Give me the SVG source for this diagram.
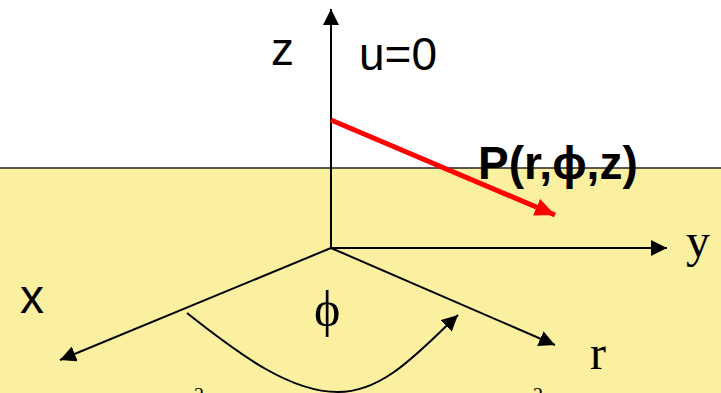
<svg xmlns="http://www.w3.org/2000/svg" width="721" height="393" viewBox="0 0 721 393">
<style>
.ax{stroke:#000;stroke-width:2;fill:none}
.sans{font-family:"Liberation Sans",Arial,sans-serif;fill:#000}
.serif{font-family:"Liberation Serif","Times New Roman",serif;fill:#000}
</style>
<defs>
<marker id="ah" markerUnits="userSpaceOnUse" markerWidth="18" markerHeight="16" refX="16" refY="8" orient="auto">
<path d="M0,0 L16,8 L0,16 Z" fill="#000"/>
</marker>
<marker id="ahr" markerUnits="userSpaceOnUse" markerWidth="22" markerHeight="18" refX="20" refY="9" orient="auto">
<path d="M0,0 L20,9 L0,18 Z" fill="#f00"/>
</marker>
</defs>
<rect x="0" y="0" width="721" height="393" fill="#fff"/>
<rect id="ground" x="0" y="168" width="721" height="225" fill="#FAF0A0"/>
<line id="surface" x1="0" y1="168" x2="721" y2="168" stroke="#222" stroke-width="1.5"/>
<g id="connectors">
<line class="ax" x1="331" y1="249" x2="331" y2="9" marker-end="url(#ah)"/>
<line class="ax" x1="331" y1="248" x2="667" y2="248" marker-end="url(#ah)"/>
<line class="ax" x1="331" y1="248" x2="60" y2="360" marker-end="url(#ah)"/>
<line class="ax" x1="331" y1="248" x2="555" y2="345" marker-end="url(#ah)"/>
<path class="ax" d="M187,313 C240,355 290,392 338,392 C385,392 420,350 458,315" marker-end="url(#ah)"/>
<line x1="331" y1="120" x2="555" y2="215" stroke="#f00" stroke-width="5" marker-end="url(#ahr)"/>
</g>
<g id="labels">
<text class="sans" x="271" y="65" font-size="46">z</text>
<text class="sans" x="359" y="70" font-size="46">u=0</text>
<text class="sans" x="478" y="179" font-size="46" font-weight="bold">P(r,ϕ,z)</text>
<text class="sans" x="20" y="313" font-size="48">x</text>
<text class="serif" x="686" y="257" font-size="48">y</text>
<text class="serif" x="590" y="369" font-size="48">r</text>
<text class="serif" x="314" y="326" font-size="50">ϕ</text>
<text class="serif" x="194" y="402" font-size="20">2</text>
<text class="serif" x="533" y="402" font-size="20">2</text>
</g>
</svg>
